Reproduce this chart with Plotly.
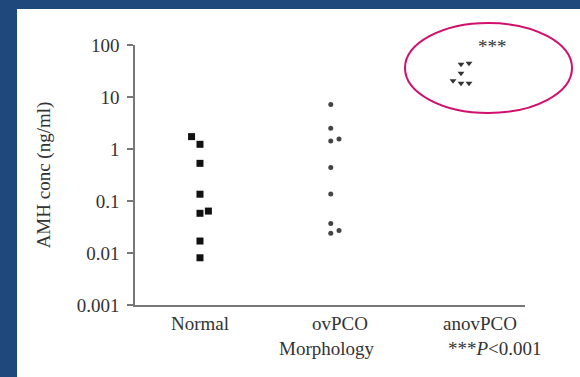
import plotly.graph_objects as go

categories = ["Normal", "ovPCO", "anovPCO"]
normal_vals = [1.73, 1.23, 0.53, 0.135, 0.058, 0.064, 0.017, 0.0081]
normal_jit = [-0.06, 0.0, 0.0, 0.0, 0.0, 0.06, 0.0, 0.0]
ovpco_vals = [7.2, 2.5, 1.43, 1.56, 0.44, 0.136, 0.037, 0.024, 0.027]
ovpco_jit = [-0.066, -0.066, -0.066, -0.007, -0.066, -0.066, -0.066, -0.066, -0.007]
anov_vals = [42.5, 44.5, 28.6, 20.6, 18.3, 18.3]
anov_jit = [-0.136, -0.079, -0.136, -0.193, -0.136, -0.079]
y_ticks = [0.001, 0.01, 0.1, 1, 10, 100]
y_tick_text = ["0.001", "0.01", "0.1", "1", "10", "100"]

FONT = "Liberation Serif"
BLUE = "#1F497D"
TXT = "#333333"

fig = go.Figure()
fig.add_trace(go.Scatter(x=[0 + j for j in normal_jit], y=normal_vals, mode="markers",
                         marker=dict(symbol="square", size=7, color="#111111"), showlegend=False))
fig.add_trace(go.Scatter(x=[1 + j for j in ovpco_jit], y=ovpco_vals, mode="markers",
                         marker=dict(symbol="circle", size=5, color="#444444"), showlegend=False))
fig.add_trace(go.Scatter(x=[2 + j for j in anov_jit], y=anov_vals, mode="markers",
                         marker=dict(symbol="triangle-down", size=6, color="#333333"), showlegend=False))

W, H = 580, 377
L, R, T, B = 135, 55, 45, 72
pw, ph = W - L - R, H - T - B

def px(x):
    return (x - L) / pw

def py(y):
    return (H - B - y) / ph

fig.update_layout(
    width=W, height=H,
    margin=dict(l=L, r=R, t=T, b=B),
    paper_bgcolor=BLUE, plot_bgcolor="white",
    font=dict(family=FONT, size=19, color=TXT),
    xaxis=dict(range=[-0.464, 2.321], tickvals=[0, 1, 2], ticktext=categories,
               showgrid=False, zeroline=False, showline=True, linecolor="#777777", linewidth=1.5,
               ticks="", ticklabelstandoff=0, tickfont=dict(size=19)),
    yaxis=dict(type="log", range=[-3, 2], tickvals=y_ticks, ticktext=y_tick_text,
               showgrid=False, zeroline=False, showline=True, linecolor="#777777", linewidth=1.5,
               ticks="outside", ticklen=6, tickcolor="#777777", tickwidth=1.5, tickfont=dict(size=19),
               ticklabelstandoff=4,
               title=dict(text="AMH conc (ng/ml)", font=dict(size=19), standoff=21)),
    shapes=[
        dict(type="rect", xref="paper", yref="paper", x0=px(17), x1=px(590), y0=py(390), y1=py(9),
             fillcolor="white", line=dict(width=0), layer="below"),
        dict(type="circle", xref="paper", yref="paper", x0=px(405), x1=px(572), y0=py(113), y1=py(23),
             line=dict(color="#D0106A", width=2)),
    ],
    annotations=[
        dict(text="Morphology", xref="paper", yref="paper", x=px(327), y=py(348), showarrow=False,
             xanchor="center", yanchor="middle", font=dict(size=19)),
        dict(text="***<i>P</i><0.001", xref="paper", yref="paper", x=px(495), y=py(348), showarrow=False,
             xanchor="center", yanchor="middle", font=dict(size=19)),
        dict(text="***", xref="paper", yref="paper", x=px(492), y=py(47), showarrow=False,
             xanchor="center", yanchor="middle", font=dict(size=19)),
    ],
)

fig.write_html("out.html", config={"displayModeBar": False},
               post_script="document.body.style.margin='0';document.body.style.padding='0';"
                           "document.body.style.background='white';document.body.style.overflow='hidden';")
